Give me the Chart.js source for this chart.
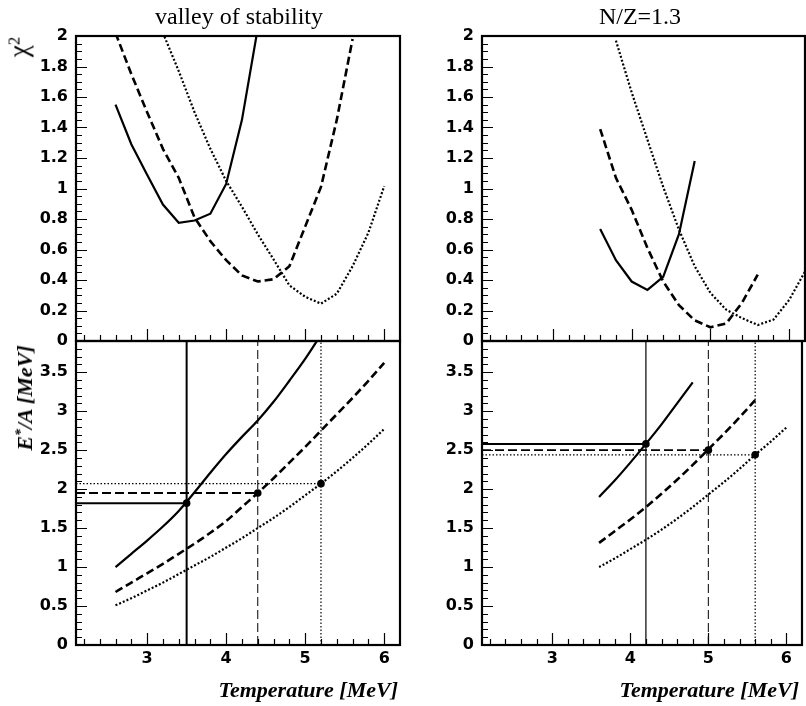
<!DOCTYPE html>
<html>
<head>
<meta charset="utf-8">
<script src="https://cdn.jsdelivr.net/npm/chart.js@4/dist/chart.umd.min.js"></script>
<style>
  html, body { margin: 0; padding: 0; background: #fff; }
  #wrap { position: relative; width: 806px; height: 706px; overflow: hidden; background: #fff; }
  #wrap canvas { position: absolute; left: 0; top: 0; }
  .lbl { position: absolute; white-space: nowrap; color: #000; line-height: 1; }
  .title { font-family: "Liberation Serif", serif; font-size: 24px; transform: translate(-50%, -50%); }
  .xtitle { font-family: "Liberation Serif", serif; font-weight: bold; font-style: italic; font-size: 22px; transform: translate(-100%, -50%); }
  .ytitle { font-family: "Liberation Serif", serif; font-size: 22px; transform: translate(-50%, -50%) rotate(-90deg); }
  .ytitle.chi { font-size: 27px; }
  .ytitle.bi { font-weight: bold; font-style: italic; }
  .ytitle sup { font-size: 62%; vertical-align: 0.5em; line-height: 0; }
</style>
</head>
<body>
<div id="wrap">
  <canvas id="cTL" width="806" height="706"></canvas>
  <canvas id="cBL" width="806" height="706"></canvas>
  <canvas id="cTR" width="806" height="706"></canvas>
  <canvas id="cBR" width="806" height="706"></canvas>

  <div class="lbl title" style="left:239px; top:16px;">valley of stability</div>
  <div class="lbl title" style="left:640px; top:16px;">N/Z=1.3</div>
  <div class="lbl ytitle chi" style="left:19px; top:47px;">χ<sup>2</sup></div>
  <div class="lbl ytitle bi" style="left:25px; top:398px;">E<sup>*</sup>/A [MeV]</div>
  <div class="lbl xtitle" style="left:398px; top:690px;">Temperature [MeV]</div>
  <div class="lbl xtitle" style="left:799px; top:690px;">Temperature [MeV]</div>
</div>

<script>
// ---------- valley of stability : chi-square vs temperature ----------
const chiVS_solidT  = [2.6, 2.8, 3.0, 3.2, 3.4, 3.6, 3.8, 4.0, 4.2, 4.4];
const chiVS_solid   = [1.55, 1.29, 1.09, 0.895, 0.775, 0.79, 0.835, 1.03, 1.45, 2.05];
const chiVS_dashT   = [2.6, 2.8, 3.0, 3.2, 3.4, 3.6, 3.8, 4.0, 4.2, 4.4, 4.6, 4.8, 5.0, 5.2, 5.4, 5.6];
const chiVS_dash    = [2.02, 1.75, 1.50, 1.26, 1.07, 0.81, 0.655, 0.53, 0.43, 0.39, 0.405, 0.49, 0.75, 1.01, 1.45, 1.98];
const chiVS_dotT    = [3.2, 3.4, 3.6, 3.8, 4.0, 4.2, 4.4, 4.6, 4.8, 5.0, 5.2, 5.4, 5.6, 5.8, 6.0];
const chiVS_dot     = [2.02, 1.77, 1.50, 1.26, 1.05, 0.88, 0.70, 0.535, 0.365, 0.29, 0.245, 0.31, 0.49, 0.71, 1.015];

// ---------- N/Z = 1.3 : chi-square vs temperature ----------
const chiNZ_solidT  = [3.6, 3.8, 4.0, 4.2, 4.4, 4.6, 4.8];
const chiNZ_solid   = [0.735, 0.53, 0.39, 0.335, 0.42, 0.70, 1.18];
const chiNZ_dashT   = [3.6, 3.8, 4.0, 4.2, 4.4, 4.6, 4.8, 5.0, 5.2, 5.4, 5.6];
const chiNZ_dash    = [1.39, 1.07, 0.86, 0.61, 0.39, 0.235, 0.135, 0.09, 0.115, 0.25, 0.435];
const chiNZ_dotT    = [3.8, 4.0, 4.2, 4.4, 4.6, 4.8, 5.0, 5.2, 5.4, 5.6, 5.8, 6.0, 6.2];
const chiNZ_dot     = [1.97, 1.63, 1.32, 1.01, 0.73, 0.49, 0.315, 0.205, 0.15, 0.105, 0.14, 0.27, 0.455];

// ---------- valley of stability : E*/A vs temperature ----------
const eVS_solidT = [2.6, 2.8, 3.0, 3.2, 3.4, 3.6, 3.8, 4.0, 4.2, 4.4, 4.6, 4.8, 5.0, 5.2];
const eVS_solid  = [1.00, 1.17, 1.34, 1.52, 1.72, 1.96, 2.21, 2.45, 2.67, 2.88, 3.12, 3.39, 3.67, 3.98];
const eVS_lineT  = [2.6, 2.8, 3.0, 3.2, 3.4, 3.6, 3.8, 4.0, 4.2, 4.4, 4.6, 4.8, 5.0, 5.2, 5.4, 5.6, 5.8, 6.0];
const eVS_dash   = [0.68, 0.80, 0.92, 1.04, 1.17, 1.30, 1.44, 1.59, 1.77, 1.95, 2.14, 2.34, 2.54, 2.75, 2.96, 3.17, 3.39, 3.62];
const eVS_dot    = [0.51, 0.60, 0.70, 0.80, 0.91, 1.02, 1.13, 1.25, 1.37, 1.50, 1.63, 1.77, 1.92, 2.07, 2.23, 2.40, 2.58, 2.77];
const eVS_markT  = [3.5, 4.4, 5.2];   // solid, dashed, dotted
const eVS_markE  = [1.82, 1.95, 2.07];

// ---------- N/Z = 1.3 : E*/A vs temperature ----------
const eNZ_solidT = [3.6, 3.8, 4.0, 4.2, 4.4, 4.6, 4.8];
const eNZ_solid  = [1.90, 2.11, 2.34, 2.58, 2.83, 3.10, 3.37];
const eNZ_dashT  = [3.6, 3.8, 4.0, 4.2, 4.4, 4.6, 4.8, 5.0, 5.2, 5.4, 5.6];
const eNZ_dash   = [1.31, 1.46, 1.61, 1.77, 1.94, 2.12, 2.31, 2.51, 2.71, 2.92, 3.14];
const eNZ_dotT   = [3.6, 3.8, 4.0, 4.2, 4.4, 4.6, 4.8, 5.0, 5.2, 5.4, 5.6, 5.8, 6.0];
const eNZ_dot    = [1.00, 1.11, 1.23, 1.35, 1.48, 1.62, 1.77, 1.93, 2.09, 2.26, 2.44, 2.61, 2.79];
const eNZ_markT  = [4.2, 5.0, 5.6];
const eNZ_markE  = [2.58, 2.50, 2.44];

// ---------- axes ----------
const tempMin = 2.1, tempMax = 6.2;
const tempTicks  = [3, 4, 5, 6];
const tempLabels = ['3', '4', '5', '6'];
const chiMax = 2, eMax = 3.9;
const chiTicks  = [0, 0.2, 0.4, 0.6, 0.8, 1, 1.2, 1.4, 1.6, 1.8, 2];
const chiLabels = ['0', '0.2', '0.4', '0.6', '0.8', '1', '1.2', '1.4', '1.6', '1.8', '2'];
const eTicks  = [0, 0.5, 1, 1.5, 2, 2.5, 3, 3.5];
const eLabels = ['0', '0.5', '1', '1.5', '2', '2.5', '3', '3.5'];

Chart.defaults.font.family = '"DejaVu Sans", sans-serif';
Chart.defaults.font.size = 16;
Chart.defaults.font.weight = 'bold';
Chart.defaults.color = '#000';

const Y_AXIS_W = 70;   // room for the value labels left of each frame
const X_AXIS_H = 30;   // room for the temperature labels under the lower frames

const pts = (ts, vs) => ts.map((t, i) => ({ x: t, y: vs[i] }));

function tickSet(step, kFrom, kTo, majorEvery) {
  const out = [];
  for (let k = kFrom; k <= kTo; k++) out.push({ v: k * step, major: k % majorEvery === 0 });
  return out;
}

// inward tick marks on left and bottom edges plus the box frame
const frameTicks = {
  id: 'frameTicks',
  afterDatasetsDraw(chart, args, o) {
    const { ctx, chartArea: a, scales: { x, y } } = chart;
    ctx.save();
    ctx.strokeStyle = '#000';
    ctx.lineWidth = 1.2;
    ctx.beginPath();
    o.x.forEach(t => {
      const px = Math.round(x.getPixelForValue(t.v)) + 0.5;
      ctx.moveTo(px, a.bottom);
      ctx.lineTo(px, a.bottom - (t.major ? 12 : 6));
    });
    o.y.forEach(t => {
      const py = Math.round(y.getPixelForValue(t.v)) + 0.5;
      ctx.moveTo(a.left, py);
      ctx.lineTo(a.left + (t.major ? 11 : 6), py);
    });
    ctx.stroke();
    ctx.lineWidth = 2.2;
    ctx.strokeRect(a.left, a.top, a.right - a.left, a.bottom - a.top);
    ctx.restore();
  }
};

const SOLID = { borderWidth: 2.2, borderDash: [] };
const DASH  = { borderWidth: 2.6, borderDash: [8, 4] };
const DOT   = { borderWidth: 2.2, borderDash: [2, 2] };

function curve(data, style, smooth) {
  return Object.assign({
    data, borderColor: '#000', pointRadius: 0, fill: false, clip: 0,
    tension: 0, cubicInterpolationMode: smooth ? 'monotone' : 'default'
  }, style);
}
function refLine(data, width, dash) {
  return { data, borderColor: '#000', borderWidth: width, borderDash: dash, pointRadius: 0, fill: false, clip: 0, tension: 0 };
}
function markers(ts, es) {
  return { data: pts(ts, es), showLine: false, pointRadius: 3.8, pointBackgroundColor: '#000', pointBorderWidth: 0, clip: 0 };
}

function panel(id, box, yMax, yTicks, yLabels, yMinor, showX, datasets) {
  const xh = showX ? X_AXIS_H : 0;
  new Chart(document.getElementById(id), {
    type: 'line',
    data: { datasets },
    options: {
      responsive: false, animation: false, devicePixelRatio: 1,
      layout: { padding: { left: box.l - Y_AXIS_W, top: box.t, right: 806 - box.r, bottom: 706 - box.b - xh } },
      plugins: { legend: { display: false }, tooltip: { enabled: false }, title: { display: false },
        frameTicks: { x: tickSet(0.2, 11, 30, 5), y: yMinor } },
      events: [],
      scales: {
        x: {
          type: 'linear', min: tempMin, max: tempMax,
          grid: { display: false, drawTicks: false, tickLength: 0 },
          border: { display: false },
          afterBuildTicks: s => { s.ticks = tempTicks.map(v => ({ value: v })); },
          afterFit: s => { s.height = xh; },
          ticks: { display: showX, autoSkip: false, maxRotation: 0, padding: 4,
                   callback: (v, i) => tempLabels[i] }
        },
        y: {
          type: 'linear', min: 0, max: yMax,
          grid: { display: false, drawTicks: false, tickLength: 0 },
          border: { display: false },
          afterBuildTicks: s => { s.ticks = yTicks.map(v => ({ value: v })); },
          afterFit: s => { s.width = Y_AXIS_W; },
          ticks: { autoSkip: false, padding: 8, callback: (v, i) => yLabels[i] }
        }
      }
    },
    plugins: [frameTicks]
  });
}

const chiMinor = tickSet(0.05, 0, 40, 4);
const eMinor   = tickSet(0.1, 0, 39, 5);

// top left
panel('cTL', { l: 76, t: 36, r: 400, b: 341 }, chiMax, chiTicks, chiLabels, chiMinor, false, [
  curve(pts(chiVS_solidT, chiVS_solid), SOLID),
  curve(pts(chiVS_dashT, chiVS_dash), DASH),
  curve(pts(chiVS_dotT, chiVS_dot), DOT)
]);

// bottom left
panel('cBL', { l: 76, t: 341, r: 400, b: 645 }, eMax, eTicks, eLabels, eMinor, true, [
  curve(pts(eVS_solidT, eVS_solid), SOLID, true),
  curve(pts(eVS_lineT, eVS_dash), DASH, true),
  curve(pts(eVS_lineT, eVS_dot), DOT, true),
  refLine([{ x: eVS_markT[0], y: 0 }, { x: eVS_markT[0], y: eMax }], 2, []),
  refLine([{ x: tempMin, y: eVS_markE[0] }, { x: eVS_markT[0], y: eVS_markE[0] }], 2, []),
  refLine([{ x: eVS_markT[1], y: 0 }, { x: eVS_markT[1], y: eMax }], 1, [9, 4]),
  refLine([{ x: tempMin, y: eVS_markE[1] }, { x: eVS_markT[1], y: eVS_markE[1] }], 1.8, [9, 4]),
  refLine([{ x: eVS_markT[2], y: 0 }, { x: eVS_markT[2], y: eMax }], 1.2, [1.5, 2]),
  refLine([{ x: tempMin, y: eVS_markE[2] }, { x: eVS_markT[2], y: eVS_markE[2] }], 1.2, [1.5, 2]),
  markers(eVS_markT, eVS_markE)
]);

// top right
panel('cTR', { l: 482, t: 36, r: 805, b: 341 }, chiMax, chiTicks, chiLabels, chiMinor, false, [
  curve(pts(chiNZ_solidT, chiNZ_solid), SOLID),
  curve(pts(chiNZ_dashT, chiNZ_dash), DASH),
  curve(pts(chiNZ_dotT, chiNZ_dot), DOT)
]);

// bottom right
panel('cBR', { l: 482, t: 341, r: 805, b: 645 }, eMax, eTicks, eLabels, eMinor, true, [
  curve(pts(eNZ_solidT, eNZ_solid), SOLID, true),
  curve(pts(eNZ_dashT, eNZ_dash), DASH, true),
  curve(pts(eNZ_dotT, eNZ_dot), DOT, true),
  refLine([{ x: eNZ_markT[0], y: 0 }, { x: eNZ_markT[0], y: eMax }], 1.2, []),
  refLine([{ x: tempMin, y: eNZ_markE[0] }, { x: eNZ_markT[0], y: eNZ_markE[0] }], 2, []),
  refLine([{ x: eNZ_markT[1], y: 0 }, { x: eNZ_markT[1], y: eMax }], 1, [9, 4]),
  refLine([{ x: tempMin, y: eNZ_markE[1] }, { x: eNZ_markT[1], y: eNZ_markE[1] }], 1.8, [9, 4]),
  refLine([{ x: eNZ_markT[2], y: 0 }, { x: eNZ_markT[2], y: eMax }], 1.2, [1.5, 2]),
  refLine([{ x: tempMin, y: eNZ_markE[2] }, { x: eNZ_markT[2], y: eNZ_markE[2] }], 1.2, [1.5, 2]),
  markers(eNZ_markT, eNZ_markE)
]);
</script>
</body>
</html>
